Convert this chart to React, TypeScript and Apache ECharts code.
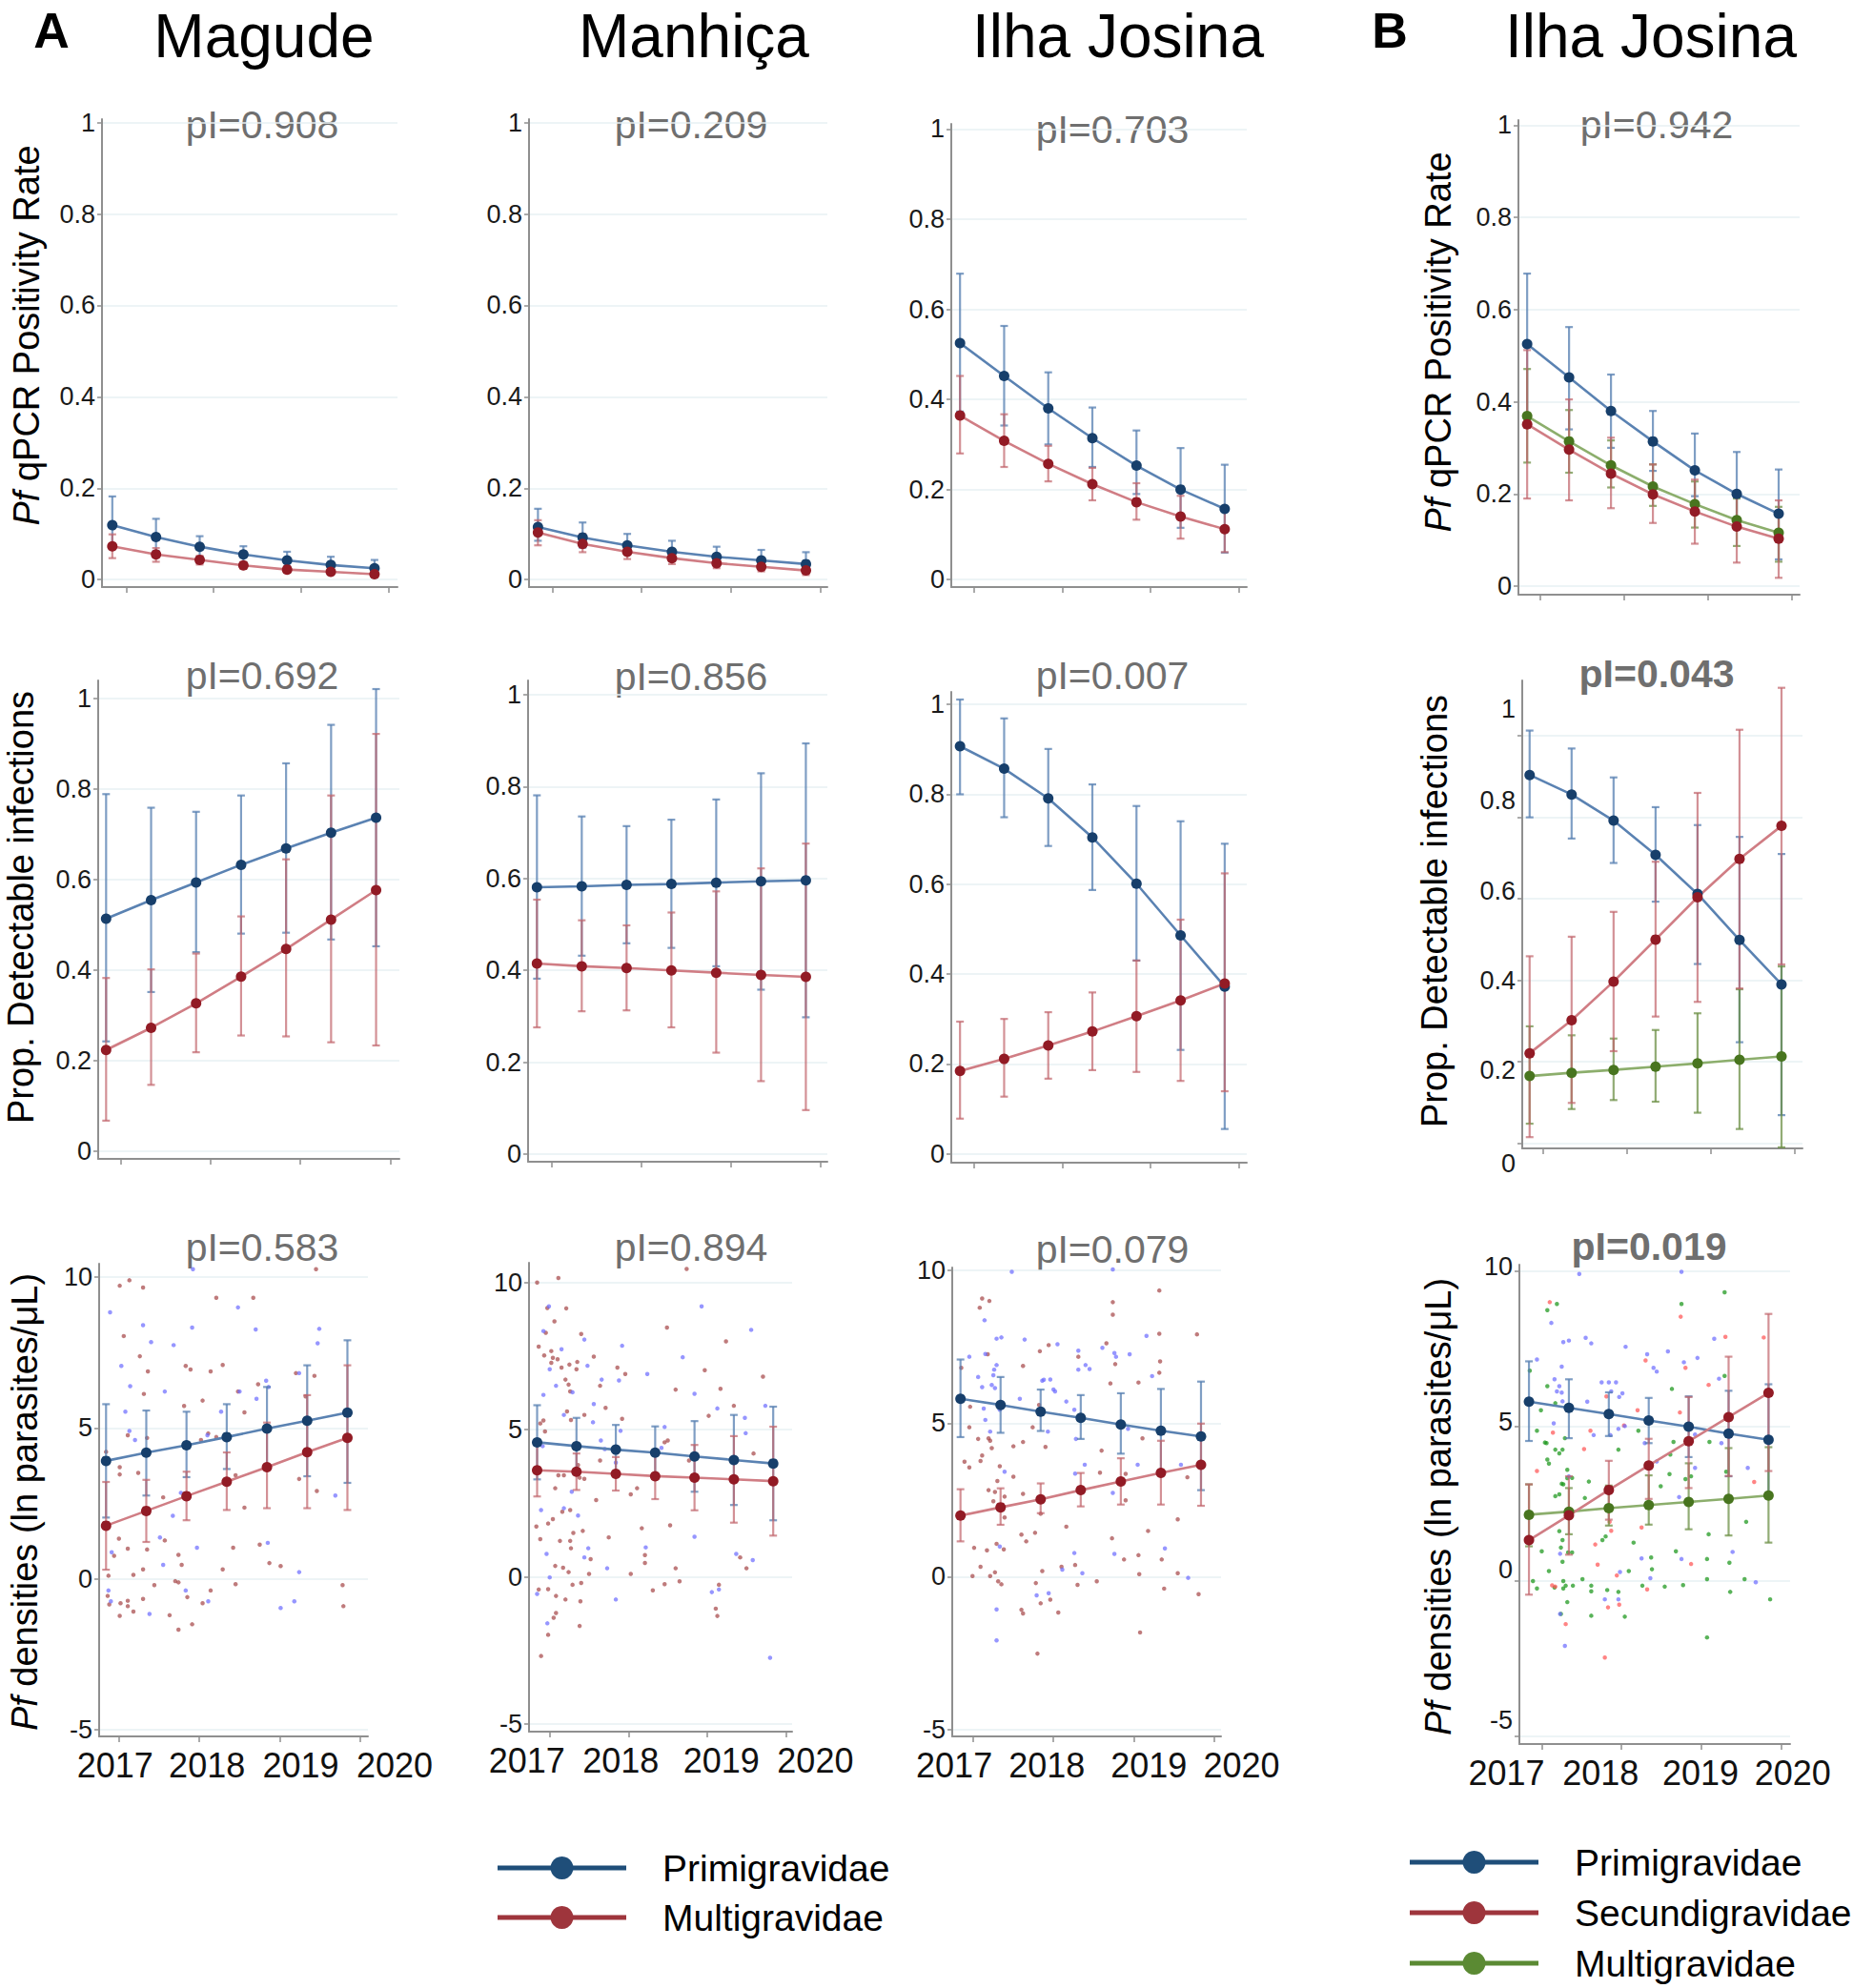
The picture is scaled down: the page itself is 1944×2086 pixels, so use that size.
import React, { useEffect, useRef } from 'react';
import * as echarts from 'echarts';

// ---------------- data ----------------
const visitYears = [2016.84, 2017.34, 2017.84, 2018.34, 2018.84, 2019.34, 2019.84];
const yearTicks = [2017, 2018, 2019, 2020];
const rateTicks = [0, 0.2, 0.4, 0.6, 0.8, 1];
const densityTicks = [-5, 0, 5, 10];

// Magude
const magudeQpcrPrimi = [0.119, 0.093, 0.072, 0.055, 0.042, 0.032, 0.025];
const magudeQpcrPrimiLo = [0.075, 0.062, 0.05, 0.038, 0.028, 0.02, 0.013];
const magudeQpcrPrimiHi = [0.182, 0.133, 0.095, 0.073, 0.061, 0.05, 0.043];
const magudeQpcrMulti = [0.073, 0.055, 0.043, 0.031, 0.022, 0.017, 0.012];
const magudeQpcrMultiLo = [0.047, 0.039, 0.033, 0.024, 0.016, 0.011, 0.007];
const magudeQpcrMultiHi = [0.099, 0.069, 0.052, 0.038, 0.028, 0.022, 0.017];

const magudeDetPrimi = [0.514, 0.555, 0.594, 0.633, 0.669, 0.704, 0.737];
const magudeDetPrimiLo = [0.243, 0.352, 0.44, 0.481, 0.483, 0.468, 0.453];
const magudeDetPrimiHi = [0.789, 0.759, 0.75, 0.786, 0.857, 0.942, 1.021];
const magudeDetMulti = [0.224, 0.273, 0.327, 0.386, 0.447, 0.512, 0.577];
const magudeDetMultiLo = [0.068, 0.147, 0.219, 0.256, 0.254, 0.241, 0.234];
const magudeDetMultiHi = [0.383, 0.402, 0.437, 0.519, 0.645, 0.786, 0.922];

const magudeDensPrimi = [3.91, 4.18, 4.43, 4.7, 4.98, 5.24, 5.51];
const magudeDensPrimiLo = [2.03, 2.76, 3.37, 3.64, 3.67, 3.4, 3.18];
const magudeDensPrimiHi = [5.79, 5.58, 5.54, 5.79, 6.36, 7.08, 7.91];
const magudeDensMulti = [1.76, 2.25, 2.74, 3.22, 3.7, 4.2, 4.67];
const magudeDensMultiLo = [0.3, 1.22, 1.94, 2.28, 2.34, 2.34, 2.28];
const magudeDensMultiHi = [3.21, 3.28, 3.55, 4.19, 5.18, 6.09, 7.08];

const magudeDotsPrimi = [
  [2016.89, 8.84], [2017.03, 7.06], [2017.08, 5.54], [2017.14, 6.39], [2017.13, 4.9], [2017.2, 4.6], [2017.3, 8.41],
  [2017.4, 7.85], [2017.57, 6.21], [2017.68, 7.75], [2017.91, 8.33], [2017.92, 10.27], [2018.27, 5.54], [2018.48, 9.0],
  [2018.5, 6.21], [2018.7, 8.27], [2018.71, 5.97], [2018.83, 6.57], [2018.86, 6.36], [2019.24, 6.82], [2019.49, 8.29],
  [2019.47, 7.81], [2019.69, 2.76], [2016.87, -0.39], [2016.9, -0.75], [2016.91, 0.88], [2017.38, -1.17], [2017.55, 0.46],
  [2017.67, 2.09], [2017.77, 2.85], [2017.83, -0.39], [2017.97, 1.03], [2018.11, -0.75], [2018.85, 1.19], [2019.01, -0.97],
  [2019.18, -0.75], [2019.24, 0.22], [2017.51, 1.37], [2018.1, 4.76],
];
const magudeDotsMulti = [
  [2017.01, 9.72], [2017.13, 9.9], [2017.3, 9.66], [2017.06, 8.05], [2017.26, 7.38], [2017.36, 6.88], [2017.31, 6.13],
  [2016.84, 4.21], [2017.01, 3.7], [2017.01, 3.46], [2017.11, 4.76], [2017.24, 3.51], [2017.35, 4.67], [2017.55, 2.7],
  [2017.57, 1.27], [2017.0, 1.33], [2017.11, 1.0], [2016.94, 0.76], [2017.18, 0.13], [2017.3, 0.31], [2017.35, 0.97],
  [2017.44, -0.21], [2016.87, 0.1], [2016.86, -0.57], [2016.88, -0.85], [2017.02, -0.81], [2017.01, -1.23], [2017.11, -0.73],
  [2017.11, -0.91], [2017.18, -1.09], [2017.3, -0.67], [2017.63, -1.21], [2017.74, -1.69], [2017.7, -0.08], [2017.74, -0.12],
  [2017.78, 0.46], [2017.74, 0.79], [2017.85, -0.61], [2017.91, -1.51], [2017.81, 5.73], [2017.83, 7.06], [2017.89, 6.94],
  [2018.04, 5.91], [2018.04, -0.81], [2018.14, -0.39], [2018.02, 4.6], [2018.11, 4.82], [2018.14, 6.88], [2018.21, 9.32],
  [2018.29, 7.09], [2018.21, 4.7], [2018.29, 0.31], [2018.42, 1.03], [2018.45, -0.18], [2018.45, 3.43], [2018.48, 6.21],
  [2018.56, 5.52], [2018.56, 2.36], [2018.67, 9.32], [2018.73, 6.45], [2018.75, 1.13], [2018.87, 0.52], [2019.01, 0.42],
  [2019.2, 6.82], [2019.24, 3.31], [2019.43, 6.73], [2019.45, 10.27], [2019.46, 2.91], [2019.78, -0.21], [2019.79, -0.91],
  [2019.32, 6.05],
];

// Manhiça
const manhicaQpcrPrimi = [0.115, 0.092, 0.075, 0.061, 0.05, 0.042, 0.034];
const manhicaQpcrPrimiLo = [0.085, 0.07, 0.058, 0.045, 0.035, 0.027, 0.02];
const manhicaQpcrPrimiHi = [0.155, 0.125, 0.1, 0.085, 0.072, 0.065, 0.06];
const manhicaQpcrMulti = [0.103, 0.078, 0.061, 0.047, 0.036, 0.028, 0.02];
const manhicaQpcrMultiLo = [0.075, 0.06, 0.045, 0.034, 0.025, 0.018, 0.01];
const manhicaQpcrMultiHi = [0.13, 0.1, 0.08, 0.063, 0.05, 0.04, 0.033];

const manhicaDetPrimi = [0.581, 0.583, 0.586, 0.588, 0.591, 0.594, 0.596];
const manhicaDetPrimiLo = [0.382, 0.432, 0.459, 0.449, 0.409, 0.358, 0.298];
const manhicaDetPrimiHi = [0.781, 0.735, 0.714, 0.728, 0.772, 0.829, 0.894];
const manhicaDetMulti = [0.415, 0.409, 0.405, 0.4, 0.395, 0.39, 0.386];
const manhicaDetMultiLo = [0.276, 0.311, 0.313, 0.276, 0.221, 0.159, 0.096];
const manhicaDetMultiHi = [0.554, 0.509, 0.498, 0.526, 0.572, 0.622, 0.676];

const manhicaDensPrimi = [4.57, 4.44, 4.32, 4.22, 4.09, 3.97, 3.85];
const manhicaDensPrimiLo = [3.31, 3.48, 3.48, 3.33, 2.89, 2.44, 1.92];
const manhicaDensPrimiHi = [5.83, 5.4, 5.16, 5.11, 5.29, 5.5, 5.78];
const manhicaDensMulti = [3.62, 3.57, 3.5, 3.42, 3.37, 3.31, 3.25];
const manhicaDensMultiLo = [2.73, 2.95, 2.93, 2.64, 2.26, 1.84, 1.4];
const manhicaDensMultiHi = [4.51, 4.19, 4.07, 4.2, 4.48, 4.78, 5.1];

const manhicaDotsPrimi = [
  [2016.99, 9.19], [2016.92, 8.35], [2016.92, 6.18], [2017.0, 7.05], [2017.08, 6.49], [2017.15, 7.73], [2017.18, 5.5],
  [2017.0, -0.02], [2016.96, 0.78], [2016.84, -0.58], [2016.97, -1.58], [2016.89, 2.27], [2016.91, 4.44], [2017.29, 6.27],
  [2017.36, 2.08], [2017.44, 8.06], [2017.48, 7.17], [2017.49, 0.97], [2017.44, 0.66], [2017.55, 5.25], [2017.56, 5.87],
  [2017.65, 4.63], [2017.66, 6.7], [2017.7, 4.34], [2017.73, 0.29], [2017.84, 3.88], [2017.84, -0.77], [2017.88, 6.67],
  [2017.9, 4.96], [2017.92, 7.85], [2018.24, 6.89], [2018.22, 1.0], [2018.42, 4.38], [2018.46, 5.09], [2018.69, 7.46],
  [2018.84, 6.22], [2018.84, 1.36], [2018.93, 9.19], [2019.13, 5.72], [2019.06, -0.52], [2019.15, -0.43], [2019.37, 0.78],
  [2019.48, 5.4], [2019.49, 4.88], [2019.56, 8.39], [2019.58, 0.57], [2019.74, 5.81], [2019.8, -2.75], [2017.18, 2.33],
  [2017.28, 2.89],
];
const manhicaDotsMulti = [
  [2016.84, 10.0], [2017.11, 10.15], [2016.86, 7.82], [2016.93, 7.52], [2016.95, 8.29], [2016.97, 9.13], [2017.06, 8.68],
  [2017.02, 7.67], [2017.02, 7.27], [2017.04, 7.44], [2017.1, 7.39], [2017.15, 7.11], [2017.21, 9.12], [2017.25, 7.21],
  [2017.2, 6.7], [2017.24, 6.53], [2017.26, 6.3], [2017.22, 5.62], [2017.27, 5.33], [2017.35, 7.3], [2017.34, 7.05],
  [2017.4, 8.25], [2017.56, 7.48], [2017.44, 5.5], [2017.36, 3.8], [2017.38, 3.37], [2017.44, 3.33], [2017.18, 3.45],
  [2017.11, 3.45], [2017.07, 3.01], [2016.92, 5.31], [2016.88, 5.21], [2016.94, 4.94], [2016.83, 1.71], [2016.88, 1.28],
  [2016.98, 1.81], [2017.04, 1.96], [2017.13, 1.22], [2017.26, 1.22], [2017.27, 0.97], [2017.3, 1.49], [2017.16, 2.21],
  [2017.26, 2.27], [2017.07, 0.37], [2017.17, 0.31], [2017.24, 0.16], [2017.29, -0.27], [2017.4, -0.21], [2017.42, 1.56],
  [2017.39, -0.83], [2017.08, -0.65], [2016.98, -0.42], [2016.86, -0.43], [2016.89, -2.69], [2016.98, -1.97], [2017.05, -1.39],
  [2017.08, -1.23], [2017.2, -0.77], [2017.38, -1.67], [2017.5, 0.1], [2017.52, 0.6], [2017.59, 2.61], [2017.64, 6.49],
  [2017.64, 3.95], [2017.71, 5.74], [2017.75, 1.34], [2017.86, 7.11], [2017.92, 5.37], [2017.96, 6.89], [2018.03, 2.8],
  [2018.03, 0.1], [2018.11, 3.01], [2018.17, 1.65], [2018.21, 0.74], [2018.21, 0.47], [2018.31, -0.46], [2018.46, -0.25],
  [2018.46, 4.57], [2018.5, 4.63], [2018.49, 8.47], [2018.53, 1.75], [2018.6, 6.36], [2018.6, 0.29], [2018.65, -0.15],
  [2018.74, 10.46], [2018.77, 3.95], [2018.97, 7.02], [2019.02, 5.47], [2019.17, 6.39], [2019.11, -1.08], [2019.13, -1.33],
  [2019.15, -0.27], [2019.24, 8.0], [2019.34, 5.81], [2019.42, 0.66], [2019.5, 0.29], [2019.59, 4.19], [2019.71, 6.8],
];

// Ilha Josina (A)
const ilhaQpcrPrimi = [0.525, 0.452, 0.38, 0.314, 0.253, 0.2, 0.157];
const ilhaQpcrPrimiLo = [0.373, 0.342, 0.3, 0.25, 0.19, 0.115, 0.06];
const ilhaQpcrPrimiHi = [0.679, 0.563, 0.46, 0.382, 0.331, 0.292, 0.255];
const ilhaQpcrMulti = [0.364, 0.308, 0.257, 0.212, 0.172, 0.14, 0.112];
const ilhaQpcrMultiLo = [0.28, 0.25, 0.218, 0.176, 0.133, 0.091, 0.061];
const ilhaQpcrMultiHi = [0.452, 0.367, 0.297, 0.248, 0.214, 0.186, 0.161];

const ilhaDetPrimi = [0.907, 0.857, 0.791, 0.704, 0.601, 0.486, 0.372];
const ilhaDetPrimiLo = [0.8, 0.749, 0.685, 0.587, 0.43, 0.231, 0.055];
const ilhaDetPrimiHi = [1.011, 0.969, 0.901, 0.822, 0.774, 0.74, 0.69];
const ilhaDetMulti = [0.184, 0.211, 0.241, 0.272, 0.306, 0.341, 0.379];
const ilhaDetMultiLo = [0.078, 0.127, 0.167, 0.186, 0.182, 0.162, 0.139];
const ilhaDetMultiHi = [0.294, 0.3, 0.315, 0.359, 0.43, 0.521, 0.624];

const ilhaDensPrimi = [5.8, 5.6, 5.38, 5.18, 4.96, 4.76, 4.57];
const ilhaDensPrimiLo = [4.55, 4.69, 4.75, 4.49, 4.01, 3.42, 2.82];
const ilhaDensPrimiHi = [7.08, 6.51, 6.1, 5.92, 5.98, 6.12, 6.36];
const ilhaDensMulti = [1.99, 2.26, 2.52, 2.82, 3.1, 3.38, 3.65];
const ilhaDensMultiLo = [1.15, 1.69, 2.07, 2.29, 2.35, 2.35, 2.31];
const ilhaDensMultiHi = [2.85, 2.88, 3.04, 3.38, 3.86, 4.43, 4.99];

const ilhaDotsPrimi = [
  [2016.95, 7.17], [2017.48, 9.94], [2017.14, 8.36], [2017.15, 7.26], [2017.29, 7.76], [2017.35, 7.8], [2017.06, 6.51],
  [2017.11, 6.18], [2017.13, 5.48], [2017.23, 6.25], [2017.26, 6.75], [2017.27, 6.15], [2017.25, 6.57], [2017.29, 6.9],
  [2017.33, 5.44], [2017.39, 3.42], [2017.58, 5.8], [2017.64, 7.73], [2018.05, 7.58], [2018.0, 6.1], [2018.02, 6.04],
  [2017.86, 6.39], [2017.88, 6.42], [2017.96, 6.43], [2018.31, 7.37], [2018.31, 6.75], [2018.4, 6.9], [2018.45, 6.77],
  [2018.26, 5.44], [2018.16, 5.71], [2018.28, 4.49], [2018.39, 3.65], [2018.61, 7.46], [2018.76, 7.29], [2018.78, 7.17],
  [2018.74, 10.02], [2018.95, 7.25], [2018.93, 4.82], [2019.16, 7.85], [2019.23, 6.54], [2019.05, 3.65], [2019.34, 3.3],
  [2019.39, 0.92], [2018.74, 2.73], [2018.76, 0.74], [2019.59, 3.65], [2019.68, -0.04], [2017.79, -0.61], [2017.94, -0.54],
  [2017.29, -1.07], [2017.29, -2.08], [2017.33, 0.98], [2018.11, 0.23], [2018.36, 0.11], [2018.26, 0.77], [2017.93, 4.73],
  [2017.15, 5.11], [2017.21, 4.73], [2018.27, 3.36],
];
const ilhaDotsMulti = [
  [2016.85, 6.81], [2017.11, 9.07], [2017.2, 8.99], [2017.08, 8.77], [2017.18, 7.25], [2016.96, 5.54], [2016.95, 4.87],
  [2017.06, 4.49], [2017.11, 3.95], [2017.09, 3.77], [2017.19, 4.51], [2017.21, 4.43], [2017.23, 4.19], [2016.89, 3.75],
  [2016.95, 3.56], [2017.33, 3.6], [2017.3, 3.12], [2017.27, 2.76], [2017.19, 2.82], [2017.25, 2.46], [2017.39, 2.61],
  [2017.39, 1.93], [2017.5, 3.26], [2017.62, 2.7], [2017.6, 1.37], [2017.66, 1.15], [2017.38, 0.89], [2017.29, 1.07],
  [2017.01, 0.94], [2017.09, 0.32], [2017.21, 0.02], [2017.27, 0.14], [2017.31, -0.15], [2017.35, -0.25], [2017.5, 4.25],
  [2017.62, 4.39], [2017.74, 4.87], [2017.82, 5.6], [2017.83, 7.35], [2017.9, 4.23], [2017.94, 7.55], [2017.84, 2.05],
  [2017.77, 1.43], [2018.1, 0.32], [2017.86, 0.18], [2017.78, -0.21], [2017.84, -0.87], [2017.96, -0.75], [2018.06, -1.17],
  [2017.6, -1.08], [2017.62, -1.2], [2017.8, -2.51], [2018.16, 1.63], [2018.3, -0.27], [2018.27, 0.38], [2018.31, 7.17],
  [2018.54, -0.15], [2018.6, 4.11], [2018.58, 3.39], [2018.66, 7.61], [2018.71, 6.3], [2018.73, 1.25], [2018.74, 8.54],
  [2018.74, 8.95], [2018.77, 6.93], [2018.9, 2.49], [2018.88, 0.56], [2018.9, 3.35], [2019.06, 6.33], [2019.06, 0.7],
  [2019.07, 0.08], [2019.08, -1.82], [2019.11, 4.51], [2019.18, 1.49], [2019.32, 9.33], [2019.32, 7.92], [2019.33, 7.02],
  [2019.32, 6.65], [2019.35, 0.56], [2019.38, -0.39], [2019.55, 1.87], [2019.55, 0.11], [2019.67, 3.24], [2019.79, 7.9],
  [2019.81, -0.57], [2018.34, 5.18], [2017.62, 6.87], [2017.17, 0.86], [2016.99, 0.02],
];

// Ilha Josina (B): three gravidity groups
const bQpcrPrimi = [0.525, 0.453, 0.38, 0.314, 0.251, 0.2, 0.157];
const bQpcrPrimiLo = [0.37, 0.34, 0.3, 0.25, 0.195, 0.14, 0.058];
const bQpcrPrimiHi = [0.678, 0.562, 0.459, 0.38, 0.331, 0.291, 0.253];
const bQpcrSecundi = [0.351, 0.296, 0.244, 0.199, 0.162, 0.129, 0.103];
const bQpcrSecundiLo = [0.19, 0.186, 0.169, 0.137, 0.092, 0.051, 0.018];
const bQpcrSecundiHi = [0.512, 0.405, 0.322, 0.264, 0.231, 0.196, 0.186];
const bQpcrMulti = [0.369, 0.314, 0.262, 0.216, 0.178, 0.143, 0.116];
const bQpcrMultiLo = [0.268, 0.246, 0.214, 0.174, 0.127, 0.087, 0.053];
const bQpcrMultiHi = [0.471, 0.382, 0.316, 0.264, 0.227, 0.19, 0.172];

const bDetPrimi = [0.904, 0.856, 0.792, 0.708, 0.612, 0.499, 0.39];
const bDetPrimiLo = [0.8, 0.748, 0.688, 0.593, 0.44, 0.248, 0.069];
const bDetPrimiHi = [1.013, 0.969, 0.898, 0.825, 0.781, 0.752, 0.71];
const bDetSecundi = [0.221, 0.302, 0.397, 0.5, 0.604, 0.698, 0.779];
const bDetSecundiLo = [0.015, 0.099, 0.226, 0.311, 0.347, 0.38, 0.439];
const bDetSecundiHi = [0.459, 0.507, 0.568, 0.691, 0.86, 1.015, 1.118];
const bDetMulti = [0.165, 0.173, 0.18, 0.188, 0.196, 0.205, 0.213];
const bDetMultiLo = [0.048, 0.084, 0.106, 0.102, 0.075, 0.035, -0.01];
const bDetMultiHi = [0.287, 0.265, 0.257, 0.278, 0.319, 0.378, 0.434];

const bDensPrimi = [5.79, 5.59, 5.39, 5.18, 4.98, 4.76, 4.56];
const bDensPrimiLo = [4.52, 4.61, 4.68, 4.45, 4.0, 3.38, 2.82];
const bDensPrimiHi = [7.09, 6.51, 6.09, 5.91, 5.96, 6.14, 6.35];
const bDensSecundi = [1.32, 2.12, 2.94, 3.73, 4.51, 5.29, 6.07];
const bDensSecundiLo = [-0.44, 0.85, 1.98, 2.65, 3.0, 3.39, 3.55];
const bDensSecundiHi = [3.12, 3.38, 3.88, 4.59, 5.94, 7.24, 8.62];
const bDensMulti = [2.14, 2.24, 2.35, 2.45, 2.55, 2.65, 2.76];
const bDensMultiLo = [1.12, 1.51, 1.79, 1.82, 1.67, 1.47, 1.24];
const bDensMultiHi = [3.12, 3.0, 3.08, 3.41, 3.8, 4.29, 4.32];

const bDotsPrimi = [
  [2016.94, 7.15], [2017.47, 9.91], [2017.12, 8.33], [2017.27, 7.71], [2017.34, 7.76], [2017.55, 7.85], [2017.62, 7.67],
  [2017.25, 6.92], [2017.22, 6.29], [2017.16, 6.51], [2017.19, 6.12], [2017.25, 6.08], [2017.15, 5.09], [2017.26, 5.8],
  [2017.34, 3.38], [2017.23, 0.88], [2017.29, -2.09], [2017.23, -1.06], [2017.57, 5.79], [2017.65, 4.71], [2017.75, 6.41],
  [2017.84, 6.41], [2017.93, 6.41], [2017.87, 6.12], [2018.01, 6.06], [2017.97, 5.94], [2018.05, 7.56], [2017.96, 4.91],
  [2017.86, 4.71], [2018.04, 5.0], [2018.32, 7.32], [2018.4, 6.88], [2018.44, 6.76], [2018.29, 4.45], [2018.36, 3.65],
  [2018.58, 7.41], [2018.75, 9.98], [2018.78, 7.06], [2018.95, 7.2], [2019.22, 6.53], [2019.16, 7.82], [2019.25, 4.45],
  [2019.39, 0.94], [2019.35, 4.65], [2019.58, 3.65], [2019.68, -0.04], [2018.92, 4.73], [2018.92, 3.65], [2018.75, 0.71],
  [2018.25, 0.73], [2018.36, 0.09], [2017.96, -0.59], [2017.98, 0.29], [2017.79, -0.59], [2018.44, 3.86], [2018.72, 2.71],
];
const bDotsSecundi = [
  [2017.1, 9.0], [2017.14, 4.79], [2016.94, 3.55], [2017.13, -0.14], [2017.17, -0.18], [2017.3, -1.39], [2017.61, 4.85],
  [2017.53, 4.26], [2017.67, 1.18], [2017.79, -2.47], [2017.83, -0.85], [2017.97, -0.76], [2017.85, 1.91], [2017.87, 1.62],
  [2017.81, 5.96], [2018.03, 5.02], [2018.2, 5.51], [2018.3, 7.12], [2018.32, -0.27], [2018.25, 1.73], [2018.73, 5.44],
  [2018.87, 0.55], [2018.74, 8.53], [2018.8, 6.88], [2019.09, 6.33], [2019.3, 7.88], [2019.66, 3.2], [2019.78, 7.86],
  [2017.7, 0.53], [2017.94, 0.18],
];
const bDotsMulti = [
  [2016.85, 6.79], [2017.07, 8.74], [2017.19, 8.94], [2017.07, 6.29], [2017.07, 3.92], [2017.09, 3.79], [2016.99, 5.51],
  [2016.94, 4.85], [2016.89, 0.0], [2016.94, -0.24], [2017.0, 0.96], [2017.09, 0.32], [2017.16, -0.21], [2017.24, -1.06],
  [2017.27, -0.24], [2017.3, -0.15], [2017.32, -0.68], [2017.26, 0.62], [2017.24, 1.08], [2017.27, 0.0], [2017.22, 1.61],
  [2017.26, 1.32], [2017.22, 2.8], [2017.17, 2.74], [2017.25, 3.14], [2017.27, 3.12], [2017.32, 3.32], [2017.26, 4.24],
  [2017.32, 3.59], [2017.04, 4.47], [2017.06, 4.45], [2017.17, 4.24], [2017.22, 4.12], [2017.29, 4.61], [2017.17, 5.74],
  [2017.38, 0.92], [2017.39, -0.15], [2017.54, 2.68], [2017.59, 3.21], [2017.62, -0.15], [2017.62, -0.33], [2017.62, -1.12],
  [2017.51, 0.06], [2017.76, 1.32], [2017.8, 1.44], [2017.82, -0.29], [2017.96, 4.24], [2017.96, -0.35], [2018.04, -1.15],
  [2018.09, 0.32], [2018.15, 1.24], [2018.21, 4.85], [2018.26, -0.15], [2018.38, 0.38], [2018.37, 0.76], [2018.49, 3.06],
  [2018.54, -0.18], [2018.6, 3.45], [2018.61, 4.08], [2018.65, 4.49], [2018.68, 0.96], [2018.63, 6.2], [2018.75, 8.94],
  [2018.77, -0.13], [2018.8, 3.29], [2018.87, 3.38], [2019.07, -1.82], [2019.07, 0.71], [2019.07, 0.06], [2019.09, 1.51],
  [2019.1, 4.49], [2019.29, 9.32], [2019.29, 6.62], [2019.31, 3.53], [2019.35, 0.59], [2019.36, -0.35], [2019.54, 0.06],
  [2019.56, 1.91], [2019.86, -0.59], [2017.33, 0.92], [2017.38, 3.33],
];

// ---------------- styling ----------------
const FONT = "'Liberation Sans', Arial, Helvetica, sans-serif";
const PALETTE: Record<string, { line: string; marker: string; bar: string; dot: string }> = {
  primi: { line: '#5a82b2', marker: '#173f6b', bar: 'rgba(84,126,176,0.75)', dot: 'rgba(110,110,255,0.9)' },
  multiA: { line: '#d07d84', marker: '#921b25', bar: 'rgba(192,98,105,0.7)', dot: 'rgba(160,60,62,0.85)' },
  secundi: { line: '#d07d84', marker: '#921b25', bar: 'rgba(192,98,105,0.7)', dot: 'rgba(255,85,85,0.9)' },
  multiB: { line: '#8cae6c', marker: '#48751f', bar: 'rgba(104,140,64,0.72)', dot: 'rgba(25,150,25,0.9)' },
};

type Group = { est: number[]; lo: number[]; hi: number[]; tone: string };
type Panel = {
  box: number[]; // left, top, right, bottom (px)
  xr: number[]; yr: number[]; ticks: number[];
  groups: Group[];
  dots?: { pts: number[][]; tone: string }[];
  pI: string; pIAt: number[]; pIBold?: boolean;
  xLabels?: boolean; xShift?: number[]; yShift?: number[];
};

const g = (est: number[], lo: number[], hi: number[], tone: string): Group => ({ est, lo, hi, tone });

const panels: Panel[] = [
  // Row 1 - qPCR positivity
  { box: [107, 125, 417, 616], xr: [2016.722, 2020.103], yr: [-0.0163, 1.0075], ticks: rateTicks,
    groups: [g(magudeQpcrPrimi, magudeQpcrPrimiLo, magudeQpcrPrimiHi, 'primi'), g(magudeQpcrMulti, magudeQpcrMultiLo, magudeQpcrMultiHi, 'multiA')],
    pI: 'pI=0.908', pIAt: [275, 131] },
  { box: [555, 125, 868, 616], xr: [2016.74, 2020.08], yr: [-0.0163, 1.0075], ticks: rateTicks,
    groups: [g(manhicaQpcrPrimi, manhicaQpcrPrimiLo, manhicaQpcrPrimiHi, 'primi'), g(manhicaQpcrMulti, manhicaQpcrMultiLo, manhicaQpcrMultiHi, 'multiA')],
    pI: 'pI=0.209', pIAt: [725, 131] },
  { box: [998, 130, 1308, 616], xr: [2016.741, 2020.09], yr: [-0.0165, 1.0114], ticks: rateTicks,
    groups: [g(ilhaQpcrPrimi, ilhaQpcrPrimiLo, ilhaQpcrPrimiHi, 'primi'), g(ilhaQpcrMulti, ilhaQpcrMultiLo, ilhaQpcrMultiHi, 'multiA')],
    pI: 'pI=0.703', pIAt: [1167, 136] },
  { box: [1593, 126, 1888, 624], xr: [2016.736, 2020.09], yr: [-0.0186, 1.011], ticks: rateTicks,
    groups: [g(bQpcrPrimi, bQpcrPrimiLo, bQpcrPrimiHi, 'primi'), g(bQpcrMulti, bQpcrMultiLo, bQpcrMultiHi, 'multiB'), g(bQpcrSecundi, bQpcrSecundiLo, bQpcrSecundiHi, 'secundi')],
    pI: 'pI=0.942', pIAt: [1738, 131] },
  // Row 2 - proportion detectable
  { box: [103, 714, 419, 1216], xr: [2016.752, 2020.099], yr: [-0.0164, 1.04], ticks: rateTicks,
    groups: [g(magudeDetPrimi, magudeDetPrimiLo, magudeDetPrimiHi, 'primi'), g(magudeDetMulti, magudeDetMultiLo, magudeDetMultiHi, 'multiA')],
    pI: 'pI=0.692', pIAt: [275, 709] },
  { box: [554, 714, 868, 1219], xr: [2016.741, 2020.08], yr: [-0.0164, 1.031], ticks: rateTicks,
    groups: [g(manhicaDetPrimi, manhicaDetPrimiLo, manhicaDetPrimiHi, 'primi'), g(manhicaDetMulti, manhicaDetMultiLo, manhicaDetMultiHi, 'multiA')],
    pI: 'pI=0.856', pIAt: [725, 710] },
  { box: [998, 726, 1308, 1220], xr: [2016.741, 2020.09], yr: [-0.02, 1.028], ticks: rateTicks,
    groups: [g(ilhaDetPrimi, ilhaDetPrimiLo, ilhaDetPrimiHi, 'primi'), g(ilhaDetMulti, ilhaDetMultiLo, ilhaDetMultiHi, 'multiA')],
    pI: 'pI=0.007', pIAt: [1167, 709] },
  { box: [1597, 714, 1891, 1205], xr: [2016.752, 2020.09], yr: [-0.0126, 1.136], ticks: rateTicks,
    groups: [g(bDetPrimi, bDetPrimiLo, bDetPrimiHi, 'primi'), g(bDetMulti, bDetMultiLo, bDetMultiHi, 'multiB'), g(bDetSecundi, bDetSecundiLo, bDetSecundiHi, 'secundi')],
    pI: 'pI=0.043', pIAt: [1738, 707], pIBold: true, yShift: [21, 9, 0, -8, -18, -28] },
  // Row 3 - densities
  { box: [104, 1326, 386, 1822], xr: [2016.754, 2020.095], yr: [-5.23, 10.45], ticks: densityTicks,
    groups: [g(magudeDensPrimi, magudeDensPrimiLo, magudeDensPrimiHi, 'primi'), g(magudeDensMulti, magudeDensMultiLo, magudeDensMultiHi, 'multiA')],
    dots: [{ pts: magudeDotsMulti, tone: 'multiA' }, { pts: magudeDotsPrimi, tone: 'primi' }],
    pI: 'pI=0.583', pIAt: [275, 1309], xLabels: true, xShift: [-4, 8, 22, 36] },
  { box: [555, 1325, 831, 1817], xr: [2016.737, 2020.08], yr: [-5.26, 10.67], ticks: densityTicks,
    groups: [g(manhicaDensPrimi, manhicaDensPrimiLo, manhicaDensPrimiHi, 'primi'), g(manhicaDensMulti, manhicaDensMultiLo, manhicaDensMultiHi, 'multiA')],
    dots: [{ pts: manhicaDotsMulti, tone: 'multiA' }, { pts: manhicaDotsPrimi, tone: 'primi' }],
    pI: 'pI=0.894', pIAt: [725, 1309], xLabels: true, xShift: [-24, -8, 15, 31] },
  { box: [999, 1330, 1281, 1822], xr: [2016.737, 2020.09], yr: [-5.21, 10.08], ticks: densityTicks,
    groups: [g(ilhaDensPrimi, ilhaDensPrimiLo, ilhaDensPrimiHi, 'primi'), g(ilhaDensMulti, ilhaDensMultiLo, ilhaDensMultiHi, 'multiA')],
    dots: [{ pts: ilhaDotsMulti, tone: 'multiA' }, { pts: ilhaDotsPrimi, tone: 'primi' }],
    pI: 'pI=0.079', pIAt: [1167, 1311], xLabels: true, xShift: [-20, -7, 16, 29] },
  { box: [1594, 1327, 1878, 1830], xr: [2016.72, 2020.11], yr: [-5.26, 10.21], ticks: densityTicks,
    groups: [g(bDensPrimi, bDensPrimiLo, bDensPrimiHi, 'primi'), g(bDensMulti, bDensMultiLo, bDensMultiHi, 'multiB'), g(bDensSecundi, bDensSecundiLo, bDensSecundiHi, 'secundi')],
    dots: [{ pts: bDotsMulti, tone: 'multiB' }, { pts: bDotsSecundi, tone: 'secundi' }, { pts: bDotsPrimi, tone: 'primi' }],
    pI: 'pI=0.019', pIAt: [1730, 1308], pIBold: true, xLabels: true, xShift: [-37, -22, -1, 12], yShift: [-17, -12, -4, -5] },
];

const titles = [
  { text: 'Magude', x: 277 }, { text: 'Manhiça', x: 728 }, { text: 'Ilha Josina', x: 1173 }, { text: 'Ilha Josina', x: 1732 },
];
const axisTitles = [
  { text: '{i|Pf} qPCR Positivity Rate', x: 28, y: 352 },
  { text: 'Prop. Detectable infections', x: 22, y: 952 },
  { text: '{i|Pf} densities (ln parasites/μL)', x: 26, y: 1576 },
  { text: '{i|Pf} qPCR Positivity Rate', x: 1509, y: 359 },
  { text: 'Prop. Detectable infections', x: 1505, y: 956 },
  { text: '{i|Pf} densities (ln parasites/μL)', x: 1509, y: 1581 },
];
const legendLeft = [
  { name: 'Primigravidae', color: '#1f4e79', y: 1960 },
  { name: 'Multigravidae', color: '#9e353c', y: 2012 },
];
const legendRight = [
  { name: 'Primigravidae', color: '#1f4e79', y: 1954 },
  { name: 'Secundigravidae', color: '#9e353c', y: 2007 },
  { name: 'Multigravidae', color: '#5b8a33', y: 2060 },
];

// ---------------- option ----------------
function shiftRich(shifts: number[], vertical: boolean, base: any) {
  const rich: any = {};
  shifts.forEach((d, k) => {
    const p = Math.abs(2 * d);
    rich['s' + k] = {
      ...base,
      padding: vertical ? (d >= 0 ? [p, 0, 0, 0] : [0, 0, p, 0]) : (d >= 0 ? [0, 0, 0, p] : [0, p, 0, 0]),
    };
  });
  return rich;
}

function buildOption() {
  const grid: any[] = [];
  const xAxis: any[] = [];
  const yAxis: any[] = [];
  const series: any[] = [];
  const axisColor = '#8f8f8f';
  const splitColor = '#e7f1f3';

  panels.forEach((p, i) => {
    const [l, t, r, b] = p.box;
    grid.push({ left: l, top: t, width: r - l, height: b - t, containLabel: false });

    const xBase = { fontSize: 36, color: '#111', fontFamily: FONT };
    xAxis.push({
      type: 'value', gridIndex: i, min: p.xr[0], max: p.xr[1],
      axisLine: { show: true, onZero: false, lineStyle: { color: axisColor, width: 2 } },
      axisTick: { show: true, customValues: yearTicks, length: 6, lineStyle: { color: axisColor, width: 1.5 } },
      axisLabel: {
        show: !!p.xLabels, customValues: yearTicks, margin: 12, ...xBase,
        formatter: (v: number) => (p.xShift ? `{s${yearTicks.indexOf(v)}|${v}}` : String(v)),
        rich: p.xShift ? shiftRich(p.xShift, false, xBase) : undefined,
      },
      splitLine: { show: false },
    });

    const yBase = { fontSize: 27, color: '#1a1a1a', fontFamily: FONT };
    yAxis.push({
      type: 'value', gridIndex: i, min: p.yr[0], max: p.yr[1],
      axisLine: { show: true, onZero: false, lineStyle: { color: axisColor, width: 2 } },
      axisTick: { show: true, customValues: p.ticks, length: 5, lineStyle: { color: axisColor, width: 1.5 } },
      axisLabel: {
        customValues: p.ticks, margin: 7, ...yBase,
        formatter: (v: number) => (p.yShift ? `{s${p.ticks.indexOf(v)}|${v}}` : String(v)),
        rich: p.yShift ? shiftRich(p.yShift, true, yBase) : undefined,
      },
      splitLine: { show: true, lineStyle: { color: splitColor, width: 1.5 } },
    });

    (p.dots || []).forEach((d) => {
      series.push({
        type: 'scatter', xAxisIndex: i, yAxisIndex: i, data: d.pts, symbol: 'circle', symbolSize: 4.5,
        itemStyle: { color: PALETTE[d.tone].dot }, z: 1, silent: true,
      });
    });

    p.groups.forEach((grp) => {
      const c = PALETTE[grp.tone];
      series.push({
        type: 'custom', xAxisIndex: i, yAxisIndex: i, silent: true, z: 2,
        data: grp.est.map((_, k) => [visitYears[k], grp.lo[k], grp.hi[k]]),
        encode: { x: 0, y: [1, 2] },
        renderItem: (_params: any, api: any) => {
          const x = api.value(0);
          const a = api.coord([x, api.value(1)]);
          const bb = api.coord([x, api.value(2)]);
          const cap = 4;
          const style = { stroke: c.bar, lineWidth: 2.2, fill: 'none' };
          return {
            type: 'group',
            children: [
              { type: 'line', shape: { x1: a[0], y1: a[1], x2: bb[0], y2: bb[1] }, style },
              { type: 'line', shape: { x1: a[0] - cap, y1: a[1], x2: a[0] + cap, y2: a[1] }, style },
              { type: 'line', shape: { x1: bb[0] - cap, y1: bb[1], x2: bb[0] + cap, y2: bb[1] }, style },
            ],
          };
        },
      });
    });
    p.groups.forEach((grp) => {
      const c = PALETTE[grp.tone];
      series.push({
        type: 'line', xAxisIndex: i, yAxisIndex: i, silent: true, z: 3,
        data: grp.est.map((v, k) => [visitYears[k], v]),
        symbol: 'circle', symbolSize: 11, showSymbol: true,
        lineStyle: { color: c.line, width: 2.6 },
        itemStyle: { color: c.marker },
      });
    });
  });

  const center = { align: 'center', verticalAlign: 'middle', textAlign: 'center', textVerticalAlign: 'middle' };
  const graphic: any[] = [];
  graphic.push({ type: 'text', x: 54, y: 32, style: { text: 'A', fontSize: 52, fontWeight: 'bold', fontFamily: FONT, fill: '#000', ...center } });
  graphic.push({ type: 'text', x: 1458, y: 32, style: { text: 'B', fontSize: 52, fontWeight: 'bold', fontFamily: FONT, fill: '#000', ...center } });
  titles.forEach((tt) => {
    graphic.push({ type: 'text', x: tt.x, y: 38, style: { text: tt.text, fontSize: 64, fontFamily: FONT, fill: '#000', ...center } });
  });
  panels.forEach((p) => {
    graphic.push({ type: 'text', x: p.pIAt[0], y: p.pIAt[1], style: { text: p.pI, fontSize: 41, fontWeight: p.pIBold ? 'bold' : 'normal', fontFamily: FONT, fill: '#6f6f6f', ...center } });
  });
  axisTitles.forEach((a) => {
    graphic.push({
      type: 'text', x: a.x, y: a.y, rotation: Math.PI / 2,
      style: {
        text: a.text, fontSize: 38, fontFamily: FONT, fill: '#000', ...center,
        rich: { i: { fontStyle: 'italic', fontSize: 38, fontFamily: FONT, fill: '#000' } },
      },
    });
  });
  const legendItem = (x0: number, x1: number, tx: number, it: { name: string; color: string; y: number }) => {
    graphic.push({ type: 'line', shape: { x1: x0, y1: it.y, x2: x1, y2: it.y }, style: { stroke: it.color, lineWidth: 5 } });
    graphic.push({ type: 'circle', shape: { cx: (x0 + x1) / 2, cy: it.y, r: 12 }, style: { fill: it.color } });
    graphic.push({ type: 'text', x: tx, y: it.y, style: { text: it.name, fontSize: 39, fontFamily: FONT, fill: '#000', align: 'left', verticalAlign: 'middle', textAlign: 'left', textVerticalAlign: 'middle' } });
  };
  legendLeft.forEach((it) => legendItem(522, 657, 695, it));
  legendRight.forEach((it) => legendItem(1479, 1614, 1652, it));

  return { animation: false, backgroundColor: '#ffffff', grid, xAxis, yAxis, series, graphic };
}

export default function App() {
  const ref = useRef<HTMLDivElement>(null);
  useEffect(() => {
    if (!ref.current) return;
    document.body.style.margin = '0';
    const chart = echarts.init(ref.current, undefined, { renderer: 'svg', width: 1944, height: 2086 });
    chart.setOption(buildOption() as any);
    return () => chart.dispose();
  }, []);
  return <div ref={ref} style={{ position: 'absolute', left: 0, top: 0, width: 1944, height: 2086, background: '#fff' }} />;
}
